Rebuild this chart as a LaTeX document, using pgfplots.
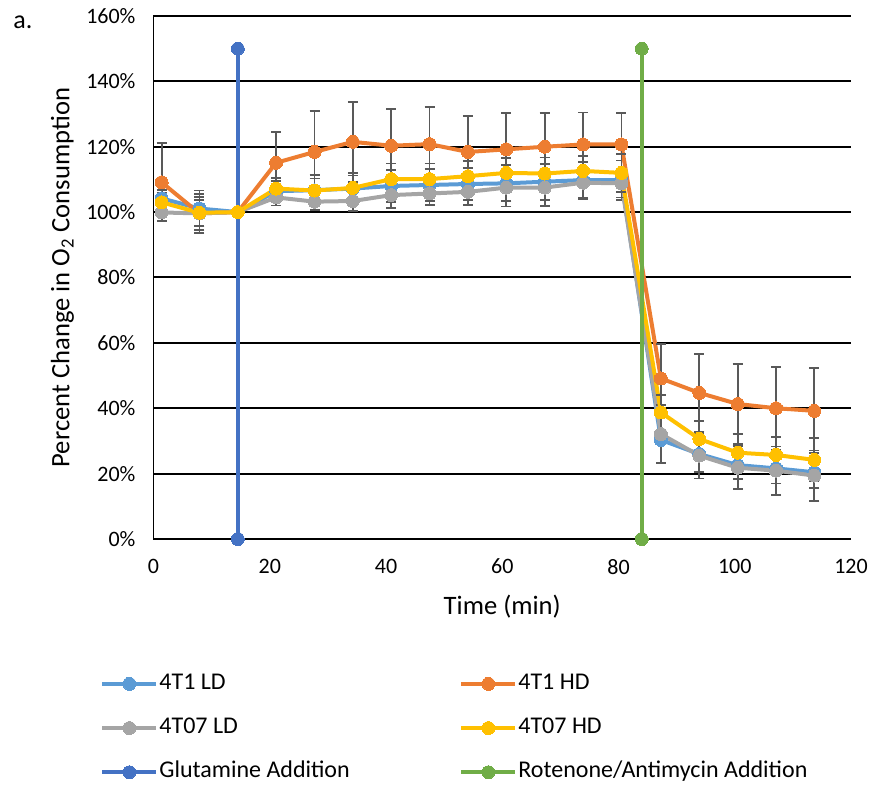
\documentclass[border=0pt]{standalone}
\usepackage{fontspec}
\setmainfont{Carlito}
\usepackage{pgfplots}
\usepackage{pgfplotstable}
\pgfplotsset{compat=1.18}
\definecolor{cLD}{HTML}{5B9BD5}
\definecolor{cHD}{HTML}{ED7D31}
\definecolor{cGLD}{HTML}{A5A5A5}
\definecolor{cGHD}{HTML}{FFC000}
\definecolor{cGlu}{HTML}{4472C4}
\definecolor{cRot}{HTML}{70AD47}
\definecolor{errgray}{HTML}{595959}

\pgfplotstableread{
t y e
1.4 104.2 2.5
7.9 101.1 5.5
14.5 100 0
21.1 106.4 3
27.7 106.7 3.6
34.3 107.2 4
40.9 108.0 5
47.5 108.3 5
54.1 108.6 5
60.7 108.8 5.5
67.3 109.3 5.5
73.9 109.8 5.5
80.5 109.8 6
87.3 30.3 7
93.9 26.0 5.4
100.5 22.6 4.3
107.1 21.6 4.6
113.7 20.4 4.9
}\tLD

\pgfplotstableread{
t y e
1.4 109.1 12
7.9 99.6 6
14.5 100 0
21.1 115.1 9.5
27.7 118.4 12.5
34.3 121.5 12.3
40.9 120.3 11.3
47.5 120.8 11.4
54.1 118.4 11
60.7 119.2 11
67.3 120.0 10.2
73.9 120.7 9.8
80.5 120.7 9.5
87.3 49.1 10.5
93.9 44.7 11.8
100.5 41.3 12.2
107.1 40.0 12.7
113.7 39.2 13
}\tHD

\pgfplotstableread{
t y e
1.4 99.9 2.5
7.9 99.6 5
14.5 100 0
21.1 104.5 2.5
27.7 103.2 2.6
34.3 103.4 3
40.9 105.2 4
47.5 105.7 3.5
54.1 106.2 4.1
60.7 107.5 5.8
67.3 107.5 5.7
73.9 109.0 4.9
80.5 108.8 4.3
87.3 32.1 9
93.9 25.5 7
100.5 21.8 6.6
107.1 20.9 7.4
113.7 19.4 7.7
}\tGLD

\pgfplotstableread{
t y e
1.4 103.0 3
7.9 99.8 4
14.5 100 0
21.1 107.2 3.3
27.7 106.6 4.7
34.3 107.4 4.5
40.9 110.1 4.8
47.5 110.1 4.8
54.1 111.0 4.6
60.7 112.0 4.6
67.3 111.8 4.9
73.9 112.6 4.6
80.5 112.0 5.8
87.3 38.7 5.3
93.9 30.6 5.6
100.5 26.4 5.7
107.1 25.7 5.5
113.7 24.2 6.6
}\tGHD

\begin{document}
\begin{tikzpicture}[font=\fontsize{11}{13}\selectfont]
\useasboundingbox (0,0) rectangle (437.5pt,393pt);
\node[font=\fontsize{13}{15}\selectfont] at (11.5pt,382pt) {a.};
\begin{axis}[
  at={(76.75pt,123.5pt)}, anchor=south west,
  scale only axis, width=348.75pt, height=261.5pt,
  xmin=0, xmax=120, ymin=0, ymax=160,
  xtick={0,20,...,120}, ytick={0,20,...,160},
  axis lines=left, axis line style={-, black, line width=0.6pt},
  major tick length=0pt,
  ymajorgrids, grid style={black, line width=1pt},
  clip=false,
  /pgf/number format/assume math mode=true,
  yticklabel={\pgfmathprintnumber{\tick}\%},
  tick label style={font=\fontsize{11}{13}\selectfont},
  xticklabel style={yshift=-6.5pt},
  yticklabel style={xshift=-5.5pt},
  xlabel={Time (min)},
  ylabel={Percent Change in O\textsubscript{2} Consumption},
  label style={font=\fontsize{13.3}{16}\selectfont},
  x label style={at={(axis description cs:0.5,-0.13)}, anchor=center},
  y label style={at={(axis description cs:-0.1305,0.5)}, anchor=center},
  legend columns=2,
  legend cell align=left,
  legend style={at={(-0.0767,-0.2542)}, anchor=north west, draw=none, fill=none,
    inner sep=0pt, row sep=10.6pt, font=\fontsize{12}{14}\selectfont,
    nodes={inner sep=0pt, text height=8.5pt, text depth=3pt},
    /tikz/every odd column/.append style={column sep=0.5pt}},
  legend image code/.code={\draw[#1,mark repeat=2,mark phase=2] plot coordinates {(0pt,0pt) (13.5pt,0pt) (27pt,0pt)};},
  every axis plot/.append style={line width=2pt, mark=*, mark size=3.25pt},
  error bars/error bar style={line width=0.9pt, color=errgray, solid},
  error bars/error mark options={rotate=90, mark size=2.5pt, line width=0.9pt, color=errgray},
]
\addplot[color=cLD, mark options={fill=cLD, draw=cLD, line width=0pt}, error bars/.cd, y dir=both, y explicit] table[x=t, y=y, y error=e] {\tLD};
\addlegendentry{\makebox[150pt][l]{4T1 LD}}
\addplot[color=cHD, mark options={fill=cHD, draw=cHD, line width=0pt}, error bars/.cd, y dir=both, y explicit] table[x=t, y=y, y error=e] {\tHD};
\addlegendentry{4T1 HD}
\addplot[color=cGLD, mark options={fill=cGLD, draw=cGLD, line width=0pt}, error bars/.cd, y dir=both, y explicit] table[x=t, y=y, y error=e] {\tGLD};
\addlegendentry{\makebox[150pt][l]{4T07 LD}}
\addplot[color=cGHD, mark options={fill=cGHD, draw=cGHD, line width=0pt}, error bars/.cd, y dir=both, y explicit] table[x=t, y=y, y error=e] {\tGHD};
\addlegendentry{4T07 HD}
\addplot[color=cGlu, mark options={fill=cGlu, draw=cGlu, line width=0pt}] coordinates {(14.5,0) (14.5,150)};
\addlegendentry{\makebox[150pt][l]{Glutamine Addition}}
\addplot[color=cRot, mark options={fill=cRot, draw=cRot, line width=0pt}] coordinates {(84.0,0) (84.0,150)};
\addlegendentry{Rotenone/Antimycin Addition}
\end{axis}
\end{tikzpicture}
\end{document}
